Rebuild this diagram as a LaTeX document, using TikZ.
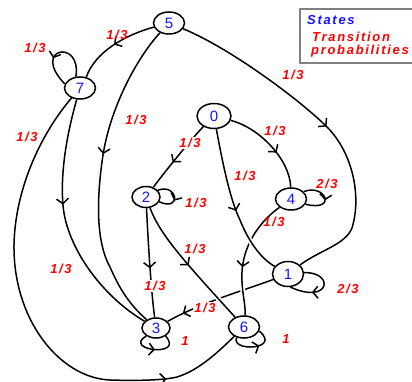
\documentclass[tikz,border=0pt]{standalone}
\usepackage{fontspec}
\setmainfont{Liberation Sans}
\newfontfamily\probfont[LetterSpace=13]{Liberation Sans}
\usetikzlibrary{arrows.meta,decorations.markings,shapes.geometric}
\definecolor{stblue}{RGB}{20,20,255}
\definecolor{probred}{RGB}{255,0,0}
\begin{document}
\begin{tikzpicture}[x=1pt,y=-1pt,
  state/.style={ellipse, draw, line width=1.5pt, minimum width=31pt,
    minimum height=22pt, inner sep=0pt, text=stblue,
    font=\fontsize{15}{15}\selectfont},
  edge/.style={draw, line width=1.5pt},
  arr/.style={postaction={decorate}, decoration={markings,
    mark=at position #1 with {\arrow{Straight Barb[length=5pt,width=12pt]}}}},
  halo/.style={preaction={draw=white, line width=5pt, shorten >=5pt, shorten <=5pt}},
  prob/.style={text=probred, inner sep=1pt,
    font=\probfont\bfseries\itshape\fontsize{13}{13}\selectfont},
  gap/.style={fill=white},
  legend/.style={anchor=west, inner sep=0pt}]
\useasboundingbox (0,0) rectangle (412,382);

% states
\node[state] (n5) at (169,23) {5};
\node[state] (n7) at (80,88) {7};
\node[state, minimum width=34pt, minimum height=25pt] (n0) at (214,116) {0};
\node[state, minimum width=28pt, minimum height=21pt] (n2) at (146,197) {2};
\node[state] (n4) at (291,199) {4};
\node[state, minimum height=25pt] (n1) at (288,274) {1};
\node[state, minimum width=28pt, minimum height=20pt] (n3) at (156,328) {3};
\node[state] (n6) at (244,327) {6};

% transitions; crossing edges get a white halo so the edge below is broken
\draw[edge, arr=0.85] (n1) .. controls (245,290) and (200,303) .. (n3);
\draw[edge, halo, arr=0.6] (n4) .. controls (255,225) and (243,250) .. (242,272)
  .. controls (241,290) and (246,305) .. (n6);
\draw[edge, halo, arr=0.5] (n2) .. controls (160,235) and (185,262) .. (n6);
\draw[edge, halo, arr=0.55] (n0) .. controls (222,160) and (230,200) .. (240,220)
  .. controls (248,240) and (260,258) .. (n1);
\draw[edge, arr=0.6] (n0) .. controls (195,135) and (170,165) .. (n2);
\draw[edge, arr=0.6] (n0) .. controls (260,128) and (290,160) .. (n4);
\draw[edge, arr=0.55] (n2) .. controls (148,240) and (151,290) .. (n3);
\draw[edge, arr=0.5] (n5) .. controls (125,35) and (95,52) .. (n7.60);
\draw[edge, arr=0.43] (n5) .. controls (135,60) and (110,110) .. (103,155)
  .. controls (97,195) and (95,240) .. (110,267)
  .. controls (120,290) and (130,305) .. (n3);
\draw[edge, arr=0.5] (n5) .. controls (230,48) and (300,100) .. (327,127)
  .. controls (352,152) and (362,195) .. (352,228)
  .. controls (345,245) and (320,250) .. (n1);
\draw[edge, arr=0.42] (n7) .. controls (68,130) and (60,170) .. (63,205)
  .. controls (66,245) and (100,295) .. (n3);
\draw[edge, arr=0.83] (n7) .. controls (40,135) and (15,190) .. (14,245)
  .. controls (13,320) and (60,378) .. (110,380)
  .. controls (140,381) and (165,380) .. (177,377)
  .. controls (200,370) and (220,350) .. (n6);

% self loops
\draw[edge, arr=0.6] (n7.110) .. controls (82,38) and (30,48) .. (n7.165);
\draw[edge, arr=0.6] (n2.30) .. controls (178,183) and (182,212) .. (n2.-20);
\draw[edge, arr=0.55] (n4.30) .. controls (325,183) and (338,212) .. (n4.-20);
\draw[edge, arr=0.65] (n1.5) .. controls (335,272) and (330,305) .. (n1.-80);
\draw[edge, arr=0.5] (n3.220) .. controls (122,350) and (185,358) .. (n3.-40);
\draw[edge, arr=0.6] (n6.235) .. controls (230,352) and (282,350) .. (n6.-15);

% probabilities
\node[prob] (p77) at (35,48) {1/3};
\node[prob] (p57) at (117,35) {1/3};
\node[prob] (p51) at (293,75) {1/3};
\node[prob] (p76) at (27,137) {1/3};
\node[prob] (p53) at (136,120) {1/3};
\node[prob, gap] (p02) at (190,143) {1/3};
\node[prob] (p04) at (275,131) {1/3};
\node[prob] (p01) at (245,176) {1/3};
\node[prob] (p44) at (327,184) {2/3};
\node[prob] (p22) at (196,203) {1/3};
\node[prob] (p46) at (274,222) {1/3};
\node[prob] (p26) at (195,249) {1/3};
\node[prob, gap] (p23) at (155,286) {1/3};
\node[prob, gap] (p13) at (205,308) {1/3};
\node[prob] (p11) at (348,289) {2/3};
\node[prob] (p33) at (185,341) {1};
\node[prob] (p66) at (286,339) {1};
\node[prob] (p73) at (61,269) {1/3};

% legend
\draw[gray, line width=1.2pt] (413,9) -| (300,63) -- (413,63);
\node[legend, text=stblue, font=\probfont\bfseries\itshape\fontsize{13}{13}\selectfont] (lgs) at (307,20) {States};
\node[legend, prob, inner sep=0pt] (lgt) at (312,37) {Transition};
\node[legend, prob, inner sep=0pt] (lgp) at (311,51) {probabilities};
\end{tikzpicture}
\end{document}
